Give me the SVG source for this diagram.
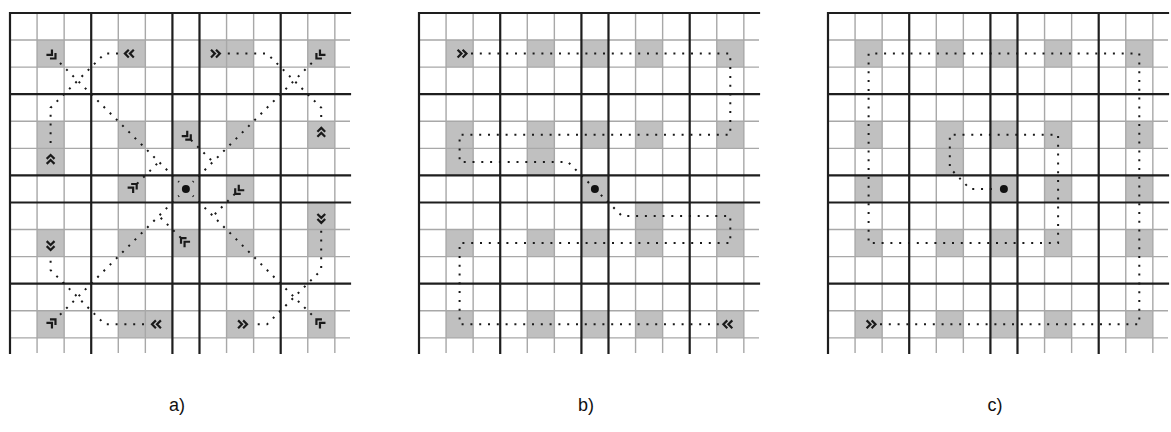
<svg xmlns="http://www.w3.org/2000/svg" xmlns:xlink="http://www.w3.org/1999/xlink" width="1171" height="432" viewBox="0 0 1171 432">
<style>
.cell{fill:#c0c0c0}
.thin{fill:none;stroke:#a8a8a8;stroke-width:1.4}
.thick{fill:none;stroke:#1e1e1e;stroke-width:2.2;stroke-linecap:square}
.dots{fill:none;stroke:#1a1a1a;stroke-width:2;stroke-dasharray:2 6.8}
.sym{fill:none;stroke:#1a1a1a;stroke-width:2.2;stroke-linejoin:miter}
.lbl{font-family:"Liberation Sans",Arial,sans-serif;font-size:18px;fill:#111;text-anchor:middle}
</style>
<defs>
<rect id="cell" class="cell" x="0" y="0" width="27.07" height="27.07"/>
<path id="dc" class="sym" d="M-2,-3.9 L1.9,0 L-2,3.9 M3,-3.9 L6.9,0 L3,3.9"/>
<g id="grid">
<path class="thin" d="M27.07 0V340M54.14 0V340M108.28 0V340M135.35 0V340M216.56 0V340M243.63 0V340M297.77 0V340M324.84 0V340M0 27.07H340M0 54.14H340M0 108.28H340M0 135.35H340M0 216.56H340M0 243.63H340M0 297.77H340M0 324.84H340"/>
<path class="thick" d="M0 0V340M81.21 0V340M162.42 0V340M189.49 0V340M270.7 0V340M0 0H340M0 81.21H340M0 162.42H340M0 189.49H340M0 270.7H340"/>
</g>
</defs>

<g id="panel-a" transform="translate(10,13)">
<g id="a-cells">
<use href="#cell" x="27.07" y="27.07"/><use href="#cell" x="108.28" y="27.07"/><use href="#cell" x="189.49" y="27.07"/><use href="#cell" x="216.56" y="27.07"/><use href="#cell" x="297.77" y="27.07"/>
<use href="#cell" x="27.07" y="108.28"/><use href="#cell" x="108.28" y="108.28"/><use href="#cell" x="162.42" y="108.28"/><use href="#cell" x="216.56" y="108.28"/><use href="#cell" x="297.77" y="108.28"/>
<use href="#cell" x="27.07" y="135.35"/>
<use href="#cell" x="108.28" y="162.42"/><use href="#cell" x="162.42" y="162.42"/><use href="#cell" x="216.56" y="162.42"/>
<use href="#cell" x="297.77" y="189.49"/>
<use href="#cell" x="27.07" y="216.56"/><use href="#cell" x="108.28" y="216.56"/><use href="#cell" x="162.42" y="216.56"/><use href="#cell" x="216.56" y="216.56"/><use href="#cell" x="297.77" y="216.56"/>
<use href="#cell" x="27.07" y="297.77"/><use href="#cell" x="108.28" y="297.77"/><use href="#cell" x="135.35" y="297.77"/><use href="#cell" x="216.56" y="297.77"/><use href="#cell" x="297.77" y="297.77"/>
</g>
<use href="#grid"/>
<g id="a-connectors">
<path class="dots" d="M108,40.6 H94.7 L40.6,94.7 V134"/>
<path class="dots" d="M217.8,40.6 H257.1 L311.2,94.7 V108"/>
<path class="dots" d="M311.2,217.8 V257.1 L257.1,311.2 H243.8"/>
<path class="dots" d="M134,311.2 H94.7 L40.6,257.1 V243.8"/>
<path class="dots" d="M50,50 L169,169"/>
<path class="dots" d="M301.8,50 L182.8,169"/>
<path class="dots" d="M301.8,301.8 L182.8,182.8"/>
<path class="dots" d="M50,301.8 L169,182.8"/>
<path class="dots" d="M181,127 L203,149"/>
<path class="dots" d="M224.8,181 L203,203"/>
<path class="dots" d="M170.8,224.8 L148.9,203"/>
<path class="dots" d="M127,170.8 L148.9,148.9"/>
</g>
<g id="a-symbols">
<use href="#dc" transform="translate(40.6,40.6) rotate(45)"/>
<use href="#dc" transform="translate(121.8,40.6) rotate(180)"/>
<use href="#dc" transform="translate(203,40.6)"/>
<use href="#dc" transform="translate(311.3,40.6) rotate(135)"/>
<use href="#dc" transform="translate(311.3,121.8) rotate(-90)"/>
<use href="#dc" transform="translate(311.3,203) rotate(90)"/>
<use href="#dc" transform="translate(311.3,311.3) rotate(-135)"/>
<use href="#dc" transform="translate(230.1,311.3)"/>
<use href="#dc" transform="translate(148.9,311.3) rotate(180)"/>
<use href="#dc" transform="translate(40.6,311.3) rotate(-45)"/>
<use href="#dc" transform="translate(40.6,230.1) rotate(90)"/>
<use href="#dc" transform="translate(40.6,148.9) rotate(-90)"/>
<use href="#dc" transform="translate(175.9,121.8) rotate(45)"/>
<use href="#dc" transform="translate(230.1,175.9) rotate(135)"/>
<use href="#dc" transform="translate(175.9,230.1) rotate(-135)"/>
<use href="#dc" transform="translate(121.8,175.9) rotate(-45)"/>
<circle cx="175.9" cy="175.9" r="4" fill="#111"/>
</g>
</g>

<g id="panel-b" transform="translate(419,13)">
<g id="b-cells">
<use href="#cell" x="27.07" y="27.07"/><use href="#cell" x="108.28" y="27.07"/><use href="#cell" x="162.42" y="27.07"/><use href="#cell" x="216.56" y="27.07"/><use href="#cell" x="297.77" y="27.07"/>
<use href="#cell" x="27.07" y="108.28"/><use href="#cell" x="108.28" y="108.28"/><use href="#cell" x="162.42" y="108.28"/><use href="#cell" x="216.56" y="108.28"/><use href="#cell" x="297.77" y="108.28"/>
<use href="#cell" x="27.07" y="135.35"/><use href="#cell" x="108.28" y="135.35"/>
<use href="#cell" x="162.42" y="162.42"/>
<use href="#cell" x="216.56" y="189.49"/><use href="#cell" x="297.77" y="189.49"/>
<use href="#cell" x="27.07" y="216.56"/><use href="#cell" x="108.28" y="216.56"/><use href="#cell" x="162.42" y="216.56"/><use href="#cell" x="216.56" y="216.56"/><use href="#cell" x="297.77" y="216.56"/>
<use href="#cell" x="27.07" y="297.77"/><use href="#cell" x="108.28" y="297.77"/><use href="#cell" x="162.42" y="297.77"/><use href="#cell" x="216.56" y="297.77"/><use href="#cell" x="297.77" y="297.77"/>
</g>
<use href="#grid"/>
<g id="b-connectors">
<path class="dots" d="M52,40.6 H311.3 V121.8 H40.6 V148.9 H148.9 L170,170"/>
<path class="dots" d="M299.8,311.3 H40.6 V230.1 H311.3 V203 H203 L181.8,181.8"/>
</g>
<g id="b-symbols">
<use href="#dc" transform="translate(40.6,40.6)"/>
<use href="#dc" transform="translate(311.3,311.3) rotate(180)"/>
<circle cx="175.9" cy="175.9" r="4" fill="#111"/>
</g>
</g>

<g id="panel-c" transform="translate(828,13)">
<g id="c-cells">
<use href="#cell" x="27.07" y="27.07"/><use href="#cell" x="108.28" y="27.07"/><use href="#cell" x="162.42" y="27.07"/><use href="#cell" x="216.56" y="27.07"/><use href="#cell" x="297.77" y="27.07"/>
<use href="#cell" x="27.07" y="108.28"/><use href="#cell" x="108.28" y="108.28"/><use href="#cell" x="162.42" y="108.28"/><use href="#cell" x="216.56" y="108.28"/><use href="#cell" x="297.77" y="108.28"/>
<use href="#cell" x="108.28" y="135.35"/>
<use href="#cell" x="27.07" y="162.42"/><use href="#cell" x="162.42" y="162.42"/><use href="#cell" x="216.56" y="162.42"/><use href="#cell" x="297.77" y="162.42"/>
<use href="#cell" x="27.07" y="216.56"/><use href="#cell" x="108.28" y="216.56"/><use href="#cell" x="162.42" y="216.56"/><use href="#cell" x="216.56" y="216.56"/><use href="#cell" x="297.77" y="216.56"/>
<use href="#cell" x="27.07" y="297.77"/><use href="#cell" x="108.28" y="297.77"/><use href="#cell" x="162.42" y="297.77"/><use href="#cell" x="216.56" y="297.77"/><use href="#cell" x="297.77" y="297.77"/>
</g>
<use href="#grid"/>
<g id="c-connectors">
<path class="dots" d="M52,311.3 H311.3 V40.6 H40.6 V230.1 H230.1 V121.8 H121.8 V155 L142,175.9 H170"/>
</g>
<g id="c-symbols">
<use href="#dc" transform="translate(40.6,311.3)"/>
<circle cx="175.9" cy="175.9" r="4" fill="#111"/>
</g>
</g>

<g id="labels">
<text class="lbl" x="177" y="411">a)</text>
<text class="lbl" x="586" y="411">b)</text>
<text class="lbl" x="995" y="411">c)</text>
</g>
</svg>
